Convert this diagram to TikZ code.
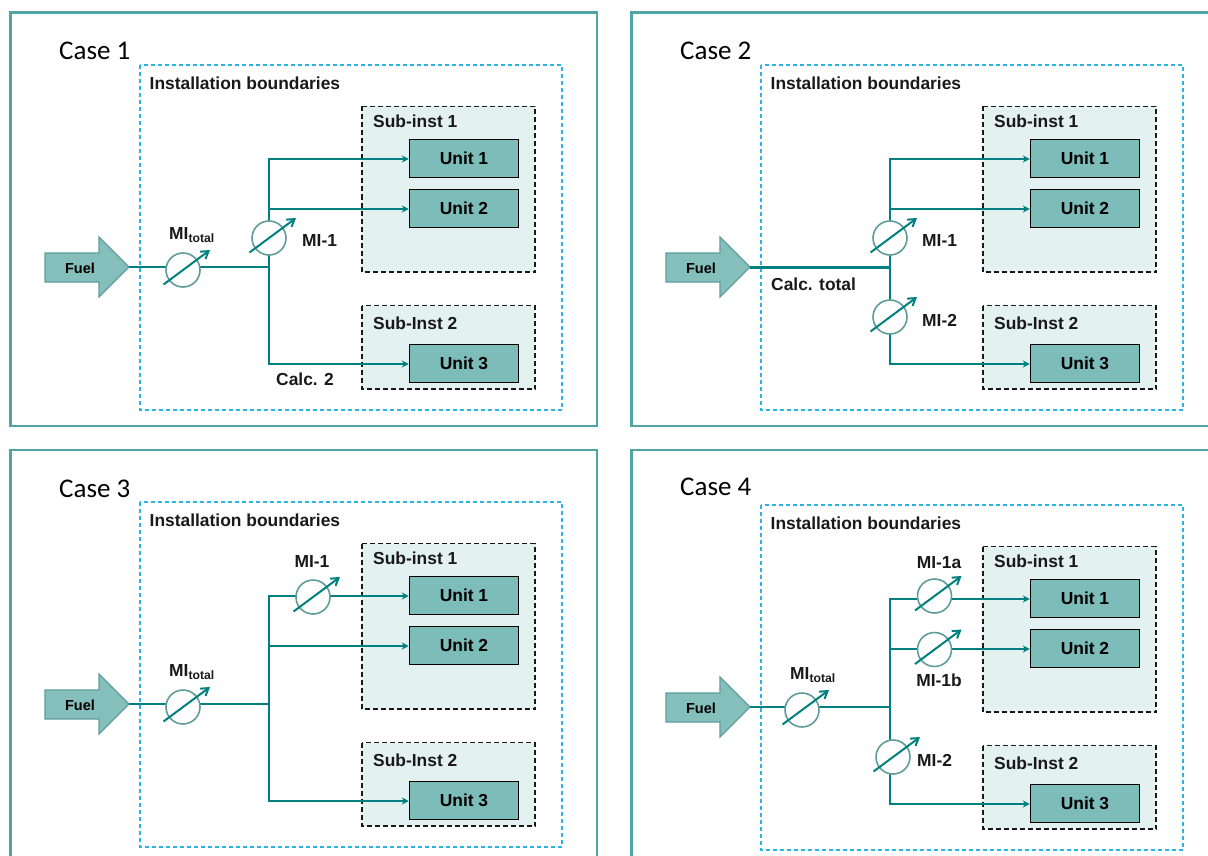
\documentclass[tikz,border=0pt]{standalone}
\usepackage{fontspec}
\setmainfont{Liberation Sans}
\newfontfamily\casefont{Carlito}
\usetikzlibrary{arrows.meta}
\definecolor{framec}{HTML}{4FA5A3}
\definecolor{instc}{HTML}{2BB3E3}
\definecolor{subc}{HTML}{E3F1F0}
\definecolor{unitc}{HTML}{7CBCB9}
\definecolor{linec}{HTML}{008080}
\definecolor{meterc}{HTML}{5F9D9B}
\definecolor{fuelc}{HTML}{85BFBC}
\tikzset{
  x=1pt,y=-1pt,
  frame/.style={draw=framec,line width=2.4pt},
  instbox/.style={draw=instc,line width=1.1pt,dash pattern=on 4pt off 3pt},
  subbox/.style={draw=black!90,fill=subc,line width=1.2pt,dash pattern=on 5pt off 3pt},
  unitbox/.style={draw=black,fill=unitc,line width=1pt,minimum width=109.5pt,minimum height=38.5pt,inner sep=0pt,font=\fontsize{17.4}{20}\selectfont\bfseries},
  lbl/.style={font=\fontsize{17.4}{20}\selectfont\bfseries,inner sep=0pt,text=black!90},
  casel/.style={font=\fontsize{27}{30}\selectfont\casefont,inner sep=0pt,anchor=west},
  feed/.style={draw=linec,line width=2pt},
  main/.style={draw=linec,line width=2.4pt},
  tofeed/.style={feed,-{Stealth[length=7pt,width=7pt]}},
  meter/.style={circle,draw=meterc,fill=white,line width=1.6pt,minimum size=34pt,inner sep=0pt},
  dial/.style={draw=linec,line width=2pt,-{Straight Barb[length=7pt,width=9pt]}},
  fuelshape/.style={draw=meterc,fill=fuelc,line width=1.3pt,line join=miter},
}
% \meterat{name}{x}{y}: meter circle with its slanted dial
\newcommand{\meterat}[3]{%
  \node[meter] (#1) at (#2,#3) {};
  \coordinate (#1s) at (#2-19.5,#3+14.5);
  \coordinate (#1e) at (#2+27,#3-20);
  \draw[dial] (#1s) -- (#1e);
}
% \basepanel{prefix}: boundary, sub-installations, units, fuel
\newcommand{\basepanel}[1]{%
  \draw[instbox] (140,65) rectangle (562,410);
  \node[lbl,anchor=west] (#1inst) at (149.5,83) {Installation boundaries};
  \draw[subbox] (362,106.5) rectangle (535,272);
  \draw[subbox] (362,305.5) rectangle (535,389);
  \node[lbl,anchor=west] (#1subA) at (373,121) {Sub-inst 1};
  \node[lbl,anchor=west] (#1subB) at (373,323) {Sub-Inst 2};
  \node[unitbox] (#1u1) at (464,158.5) {Unit 1};
  \node[unitbox] (#1u2) at (464,208.5) {Unit 2};
  \node[unitbox] (#1u3) at (464,363.5) {Unit 3};
  \draw[fuelshape] (45,253) -- (99,253) -- (99,237) -- (129,267) -- (99,297) -- (99,282) -- (45,282) -- cycle;
  \node[font=\fontsize{14.5}{16}\selectfont\bfseries,inner sep=0pt] (#1fuel) at (80,268) {Fuel};
  \coordinate (#1tip) at (129,267);
  % junction coordinates on the branch line, level with each unit
  \coordinate (#1j) at (269,267);
  \coordinate (#1t) at (269,159);
  \coordinate (#1m) at (269,209);
  \coordinate (#1b) at (269,364);
  \draw[feed,line cap=rect] (#1t) -- (#1b);
  \draw[tofeed] (#1t) -- (#1t -| #1u1.west);
  \draw[tofeed] (#1m) -- (#1m -| #1u2.west);
  \draw[tofeed] (#1b) -- (#1b -| #1u3.west);
}
\begin{document}
\begin{tikzpicture}
\useasboundingbox (0,0) rectangle (1208,856);
\clip (0,0) rectangle (1208,856);
% frames
\draw[frame] (10.5,12.5) rectangle (597,426);
\draw[frame] (631.5,12.5) rectangle (1230,426);
\draw[frame] (10.5,450) rectangle (597,880);
\draw[frame] (631.5,450) rectangle (1230,880);
\node[casel] (c1) at (59,51) {Case 1};
\node[casel] (c2) at (680,51) {Case 2};
\node[casel] (c3) at (59,488.5) {Case 3};
\node[casel] (c4) at (680,486.5) {Case 4};
% Case 1
\begin{scope}
  \basepanel{a}
  \draw[main] (atip) -- (aj);
  \meterat{amt}{183}{270}
  \meterat{am1}{269}{238}
  \node[lbl] (amtl) at (192,235) {MI\textsubscript{total}};
  \node[lbl,anchor=west] (am1l) at (302,241) {MI-1};
  \node[lbl,anchor=west] (ac2) at (276,379) {Calc. 2};
\end{scope}
% Case 2
\begin{scope}[shift={(621,0)}]
  \basepanel{b}
  \draw[main,line width=3pt] (btip) -- (bj);
  \meterat{bm1}{269}{238}
  \meterat{bm2}{269}{317}
  \node[lbl,anchor=west] (bcalc) at (150,284) {Calc. total};
  \node[lbl,anchor=west] (bm1l) at (301,241) {MI-1};
  \node[lbl,anchor=west] (bm2l) at (301,320) {MI-2};
\end{scope}
% Case 3
\begin{scope}[shift={(0,437)}]
  \basepanel{c}
  \draw[main] (ctip) -- (cj);
  \meterat{cmt}{183}{270}
  \meterat{cm1}{313}{160}
  \node[lbl] (cmtl) at (192,235) {MI\textsubscript{total}};
  \node[lbl] (cm1l) at (312,125) {MI-1};
\end{scope}
% Case 4
\begin{scope}[shift={(621,440)}]
  \basepanel{d}
  \draw[main] (dtip) -- (dj);
  \meterat{dmt}{181}{270}
  \meterat{dma}{313.5}{156}
  \meterat{dmb}{313.5}{209.5}
  \meterat{dm2}{272}{317}
  \node[lbl] (dmtl) at (192,235) {MI\textsubscript{total}};
  \node[lbl] (dmal) at (318,123) {MI-1a};
  \node[lbl] (dmbl) at (318,240) {MI-1b};
  \node[lbl,anchor=west] (dm2l) at (296,320) {MI-2};
\end{scope}
\end{tikzpicture}
\end{document}
